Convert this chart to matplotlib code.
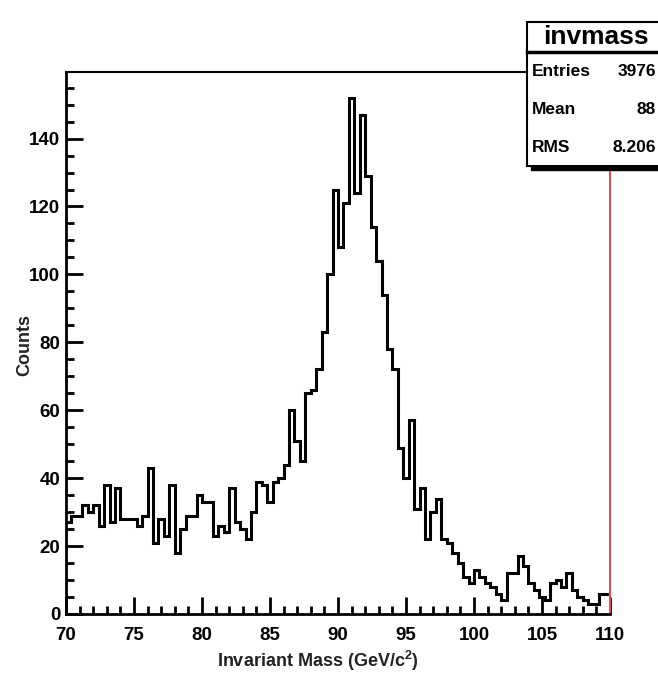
import numpy as np
import matplotlib
matplotlib.use('Agg')
import matplotlib.pyplot as plt
from matplotlib.patches import Rectangle
from matplotlib.lines import Line2D
from matplotlib.ticker import MultipleLocator

# histogram "invmass": 100 bins from 70 to 110 GeV/c^2
x_min, x_max = 70, 110
counts = [27, 29, 29, 32, 30, 32, 26, 38, 27, 37,
          28, 28, 28, 26, 29, 43, 21, 28, 23, 38,
          18, 25, 29, 29, 35, 33, 33, 23, 26, 24,
          37, 27, 25, 22, 30, 39, 38, 33, 39, 40,
          44, 60, 51, 45, 65, 66, 72, 83, 100, 125,
          108, 121, 152, 124, 147, 129, 114, 104, 94, 78,
          72, 49, 40, 57, 31, 37, 22, 30, 34, 22,
          21, 18, 15, 11, 9, 13, 11, 9, 8, 6,
          4, 12, 12, 17, 14, 9, 7, 5, 4, 9,
          10, 8, 12, 7, 5, 4, 3, 3, 6, 6]

stats_name = 'invmass'
stats_labels = ['Entries', 'Mean', 'RMS']
stats_values = ['3976', '88', '8.206']

x_title = 'Invariant Mass (GeV/c$^{\\mathbf{2}}$)'
y_title = 'Counts'

font = ['Liberation Sans Narrow', 'Liberation Sans', 'DejaVu Sans']
plt.rcParams['font.family'] = font
plt.rcParams['font.weight'] = 'bold'
plt.rcParams['mathtext.fontset'] = 'custom'
plt.rcParams['mathtext.bf'] = 'Liberation Sans:bold'

W, H = 658, 675
fig = plt.figure(figsize=(W / 100, H / 100), dpi=100)
ax = fig.add_axes([66 / W, (H - 614) / H, 544 / W, 542 / H])

edges = np.linspace(x_min, x_max, len(counts) + 1)
ax.stairs(counts, edges, baseline=None, color='black', linewidth=2.2)

ax.set_xlim(x_min, x_max)
ax.set_ylim(0, max(counts) * 1.05)

ax.xaxis.set_major_locator(MultipleLocator(5))
ax.xaxis.set_minor_locator(MultipleLocator(1))
ax.yaxis.set_major_locator(MultipleLocator(20))
ax.yaxis.set_minor_locator(MultipleLocator(5))
ax.tick_params(which='both', direction='in', top=False, right=False,
               labelsize=13.5, color='black')
ax.tick_params(which='major', length=12, width=2)
ax.tick_params(which='minor', length=6, width=2)
ax.tick_params(axis='x', pad=9)
ax.tick_params(axis='y', pad=4)
for lab in ax.get_xticklabels() + ax.get_yticklabels():
    lab.set_fontweight('bold')

ax.spines['left'].set_linewidth(2)
ax.spines['bottom'].set_linewidth(2)
ax.spines['top'].set_linewidth(1.5)
ax.spines['right'].set_color('#e05050')
ax.spines['right'].set_linewidth(1.5)

fig.text(318 / W, 1 - 661 / H, x_title, ha='center', va='center',
         fontsize=13, color='#222222')
fig.text(25 / W, 1 - 345 / H, y_title, ha='center', va='center',
         rotation=90, fontsize=13, color='#222222')

# stats box (runs off the right edge like the original)
bx0, by_top, by_bot = 527 / W, 1 - 22 / H, 1 - 166 / H
bw = 0.3
fig.add_artist(Rectangle((bx0 + 4 / W, by_bot - 4 / H), bw, by_top - by_bot,
                         transform=fig.transFigure, facecolor='black',
                         edgecolor='black', zorder=5))
fig.add_artist(Rectangle((bx0, by_bot), bw, by_top - by_bot,
                         transform=fig.transFigure, facecolor='white',
                         edgecolor='black', linewidth=1.5, zorder=6))
fig.add_artist(Line2D([bx0, bx0 + bw], [1 - 52 / H, 1 - 52 / H],
                      transform=fig.transFigure, color='black',
                      linewidth=2.5, zorder=7))
fig.text(596 / W, 1 - 37 / H, stats_name, ha='center', va='center',
         fontsize=19, zorder=8)
rows_y = [72, 110, 148]
for lab, val, yy in zip(stats_labels, stats_values, rows_y):
    fig.text(532 / W, 1 - yy / H, lab, ha='left', va='center',
             fontsize=12.5, zorder=8)
    fig.text(656 / W, 1 - yy / H, val, ha='right', va='center',
             fontsize=12.5, zorder=8)

fig.savefig('out.png', dpi=100)
